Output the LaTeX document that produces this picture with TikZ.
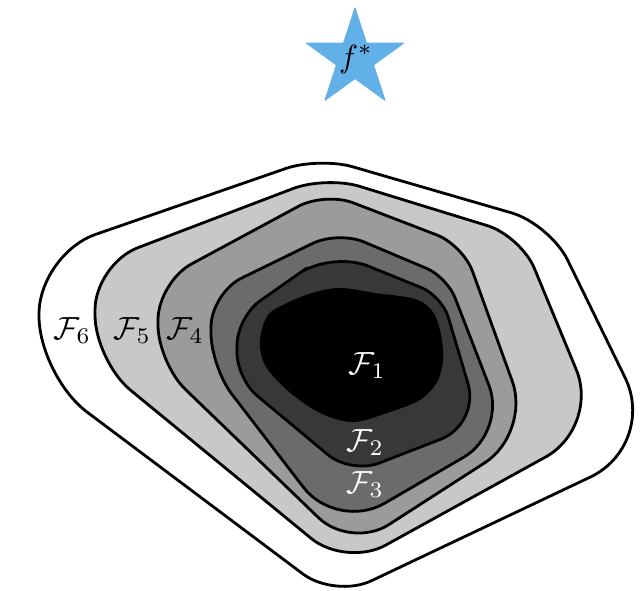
\documentclass[tikz,border=0pt]{standalone}
\definecolor{starblue}{HTML}{62B0E8}
\definecolor{gFive}{HTML}{C8C8C8}
\definecolor{gFour}{HTML}{9B9B9B}
\definecolor{gThree}{HTML}{6B6B6B}
\definecolor{gTwo}{HTML}{383838}
\begin{document}
\begin{tikzpicture}[x=1pt,y=-1pt,
  contour/.style={draw=black, line width=2.8pt, line join=round},
  lbl/.style={anchor=base west, inner sep=0pt, scale=3.2},
  smoothc/.style={smooth cycle, tension=0.55}]
\useasboundingbox (0,0) rectangle (640,590);
% star
\filldraw[starblue, line width=1pt, line join=round]
  (355,8) -- (366.5,43.2) -- (403.5,43.2) -- (373.5,65) -- (385,100.3) -- (355,78.5)
  -- (325,100.3) -- (336.5,65) -- (306.5,43.2) -- (343.5,43.2) -- cycle;
\node[anchor=base, inner sep=0pt, scale=3.2] (fstar) at (356,67) {$f^{*}$};
% F6
\draw[contour, fill=white] (179,205.5)
  [rounded corners=35pt] -- (319,157)
  [rounded corners=40pt] -- (550,224)
  [rounded corners=75pt] -- (658,445)
  [rounded corners=40pt] -- (335,598)
  [rounded corners=60pt] -- (39,376)
  [rounded corners=60pt] -- (39,254) -- cycle;
% F5
\draw[contour, fill=gFive] (210.5,220)
  [rounded corners=35pt] -- (326,176)
  [rounded corners=35pt] -- (521,236)
  [rounded corners=62pt] -- (600,427)
  [rounded corners=45pt] -- (346,567)
  [rounded corners=46pt] -- (95,361)
  [rounded corners=46pt] -- (95,264) -- cycle;
% F4
\draw[contour, fill=gFour] (241.5,237)
  [rounded corners=30pt] -- (325,192)
  [rounded corners=28pt] -- (463,245)
  [rounded corners=55pt] -- (531,433)
  [rounded corners=45pt] -- (351,549)
  [rounded corners=38pt] -- (158,363)
  [rounded corners=38pt] -- (158,282) -- cycle;
% F3
\draw[contour, fill=gThree] (274.5,262)
  [rounded corners=28pt] -- (338,231)
  [rounded corners=22pt] -- (447,277)
  [rounded corners=50pt] -- (507,432)
  [rounded corners=55pt] -- (337,531)
  [rounded corners=34pt] -- (211,367)
  [rounded corners=34pt] -- (211,293) -- cycle;
% F2
\draw[contour, fill=gTwo] (284,284)
  [rounded corners=40pt] -- (331,251)
  [rounded corners=22pt] -- (442,296)
  [rounded corners=42pt] -- (480,424)
  [rounded corners=30pt] -- (351,474)
  [rounded corners=26pt] -- (237,379)
  [rounded corners=28pt] -- (237,317) -- cycle;
% F1
\fill[black] plot[smoothc] coordinates {
 (340,288) (375,293) (415,299) (433,312) (441,335) (443,360) (437,382) (420,400)
 (387,413) (353,422) (320,413) (287,390) (265,365) (260,340) (268,315) (287,303) (312,293)};
% labels
\node[lbl] (l6) at (53,339) {$\mathcal{F}_6$};
\node[lbl] (l5) at (113,339) {$\mathcal{F}_5$};
\node[lbl] (l4) at (166,339) {$\mathcal{F}_4$};
\node[lbl, text=white] (l1) at (348,374) {$\mathcal{F}_1$};
\node[lbl, text=white] (l2) at (346,451) {$\mathcal{F}_2$};
\node[lbl, text=white] (l3) at (346,493) {$\mathcal{F}_3$};
\end{tikzpicture}
\end{document}
